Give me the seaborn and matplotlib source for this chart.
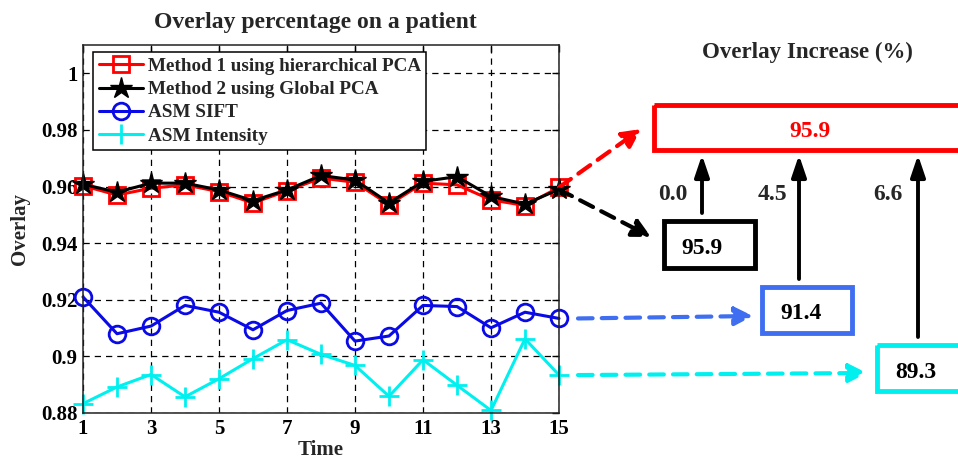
import matplotlib
matplotlib.use("Agg")
import matplotlib.pyplot as plt
import seaborn as sns
from matplotlib.patches import Rectangle

# ---------------- data ----------------
time = list(range(1, 16))
method1_hpca = [0.9603, 0.9570, 0.9594, 0.9606, 0.9582, 0.9542, 0.9585, 0.9630,
                0.9615, 0.9536, 0.9612, 0.9606, 0.9553, 0.9533, 0.9597]
method2_gpca = [0.9608, 0.9580, 0.9612, 0.9612, 0.9588, 0.9550, 0.9588, 0.9639,
                0.9623, 0.9542, 0.9618, 0.9635, 0.9565, 0.9538, 0.9590]
asm_sift = [0.9210, 0.9080, 0.9107, 0.9180, 0.9156, 0.9094, 0.9162, 0.9188,
            0.9054, 0.9072, 0.9180, 0.9176, 0.9101, 0.9156, 0.9134]
asm_intensity = [0.8833, 0.8892, 0.8936, 0.8857, 0.8921, 0.8992, 0.9059, 0.9007,
                 0.8968, 0.8859, 0.8988, 0.8898, 0.8809, 0.9062, 0.8934]

series_labels = ["Method 1 using hierarchical PCA", "Method 2 using Global PCA",
                 "ASM SIFT", "ASM Intensity"]
xticks = [1, 3, 5, 7, 9, 11, 13, 15]
yticks = [0.88, 0.90, 0.92, 0.94, 0.96, 0.98, 1.00]
ytick_labels = ["0.88", "0.9", "0.92", "0.94", "0.96", "0.98", "1"]

box_values = ["95.9", "95.9", "91.4", "89.3"]      # red, black, blue, cyan boxes
increase_labels = ["0.0", "4.5", "6.6"]

# ---------------- style ----------------
sns.set_theme(style="white")
plt.rcParams["font.family"] = ["Liberation Serif", "DejaVu Serif"]
plt.rcParams["font.weight"] = "bold"
plt.rcParams["axes.labelweight"] = "bold"

RED = "#ff0000"
BLACK = "#000000"
BLUE = "#0a0ae6"
CYAN = "#00f0f0"
LBLUE = "#3f6ef0"

W, H = 958, 462
fig = plt.figure(figsize=(W / 100, H / 100), dpi=100)
fig.patch.set_facecolor("white")

ax_l, ax_r, ax_t, ax_b = 83, 559, 45, 413
ax = fig.add_axes([ax_l / W, 1 - ax_b / H, (ax_r - ax_l) / W, (ax_b - ax_t) / H])

common = dict(ax=ax, legend=False, linewidth=2.2, clip_on=False)
sns.lineplot(x=time, y=method1_hpca, color=RED, marker="s", markersize=11,
             markerfacecolor="none", markeredgecolor=RED, markeredgewidth=2, **common)
sns.lineplot(x=time, y=method2_gpca, color=BLACK, marker="*", markersize=16,
             markerfacecolor=BLACK, markeredgecolor=BLACK, markeredgewidth=1, **common)
sns.lineplot(x=time, y=asm_sift, color=BLUE, marker="o", markersize=12,
             markerfacecolor="none", markeredgecolor=BLUE, markeredgewidth=2, **common)
sns.lineplot(x=time, y=asm_intensity, color=CYAN, marker="+", markersize=14,
             markerfacecolor=CYAN, markeredgecolor=CYAN, markeredgewidth=2, **common)

ax.set_xlim(1, 15)
ax.set_ylim(0.88, 1.01)
ax.set_xticks(xticks)
ax.set_xticklabels([str(t) for t in xticks])
ax.set_yticks(yticks)
ax.set_yticklabels(ytick_labels)
ax.set_xlabel("")
ax.set_ylabel("")
ax.grid(True, color="black", linestyle=(0, (5, 4)), linewidth=0.9)
ax.set_axisbelow(True)
ax.tick_params(direction="in", top=True, right=True, length=5, width=1,
               labelsize=15, pad=4, colors="black")
for lab in ax.get_xticklabels() + ax.get_yticklabels():
    lab.set_fontweight("bold")
for s in ax.spines.values():
    s.set_visible(True)
    s.set_color("#222222")
    s.set_linewidth(1.1)

leg = ax.legend(ax.lines[:4], series_labels, loc="upper left",
                bbox_to_anchor=(0.021, 0.981), borderaxespad=0,
                frameon=True, fancybox=False, framealpha=1, edgecolor="black",
                handlelength=2.3, handletextpad=0.25, labelspacing=0.3,
                borderpad=0.3, prop={"weight": "bold", "size": 13.8})
leg.get_frame().set_linewidth(1.1)

# titles / labels
cx = (ax_l + ax_r) / 2
fig.text(315 / W, 1 - 28 / H, "Overlay percentage on a patient", ha="center",
         va="baseline", fontsize=17, fontweight="bold")
fig.text(20 / W, 1 - ((ax_t + ax_b) / 2) / H, "Overlay", rotation=90, ha="center",
         va="center", fontsize=15, fontweight="bold")
fig.text(cx / W, 1 - 450 / H, "Time", ha="center", va="center", fontsize=15,
         fontweight="bold")

# ---------------- right-side annotation layer (pixel coords) ----------------
ann = fig.add_axes([0, 0, 1, 1], facecolor="none")
ann.set_xlim(0, W)
ann.set_ylim(H, 0)
ann.axis("off")
ann.set_zorder(5)


def to_px(x, y):
    return ann.transData.inverted().transform(ax.transData.transform((x, y)))


fig.text(807 / W, 1 - 58 / H, "Overlay Increase (%)", ha="center", va="baseline",
         fontsize=16.5, fontweight="bold")

# boxes: (left, top, right, bottom, color)
boxes = [(654, 105, 975, 150, RED),
         (664, 221, 755, 268, BLACK),
         (762, 287, 852, 333, LBLUE),
         (877, 345, 975, 391, CYAN)]
for (l, t, r, b, c) in boxes:
    ann.add_patch(Rectangle((l, t), r - l, b - t, fill=False, edgecolor=c,
                            linewidth=3.5, clip_on=False))

box_text_pos = [(810, 137), (702, 254), (801, 319), (916, 378)]
box_text_col = [RED, BLACK, BLACK, BLACK]
for (x, y), v, c in zip(box_text_pos, box_values, box_text_col):
    ann.text(x, y, v, ha="center", va="baseline", fontsize=17, fontweight="bold",
             color=c)

# vertical solid arrows up to the red box
vert_arrows = [(702, 213), (799, 279), (918, 337)]
for (x, y0) in vert_arrows:
    ann.annotate("", xy=(x, 155), xytext=(x, y0),
                 arrowprops=dict(arrowstyle="-|>,head_length=0.65,head_width=0.22",
                                 color="black", lw=2.8, mutation_scale=20,
                                 shrinkA=0, shrinkB=0))
label_pos = [(673, 200), (772, 200), (888, 200)]
for (x, y), s in zip(label_pos, increase_labels):
    ann.text(x, y, s, ha="center", va="baseline", fontsize=17, fontweight="bold")

# dashed arrows from last data points to boxes
dashed = [(method1_hpca[-1], 0, (641, 129), RED),
          (method2_gpca[-1], 0, (651, 237), BLACK),
          (asm_sift[-1], 19, (753, 316), LBLUE),
          (asm_intensity[-1], 19, (867, 373), CYAN)]
for v, dx, end, c in dashed:
    sx, sy = to_px(15, v)
    ann.annotate("", xy=end, xytext=(sx + dx, sy),
                 arrowprops=dict(arrowstyle="-|>,head_length=0.55,head_width=0.28",
                                 color=c, lw=3, linestyle=(0, (3.5, 2.2)),
                                 mutation_scale=20, shrinkA=0, shrinkB=0))

fig.savefig("out.png", dpi=100, facecolor="white")
